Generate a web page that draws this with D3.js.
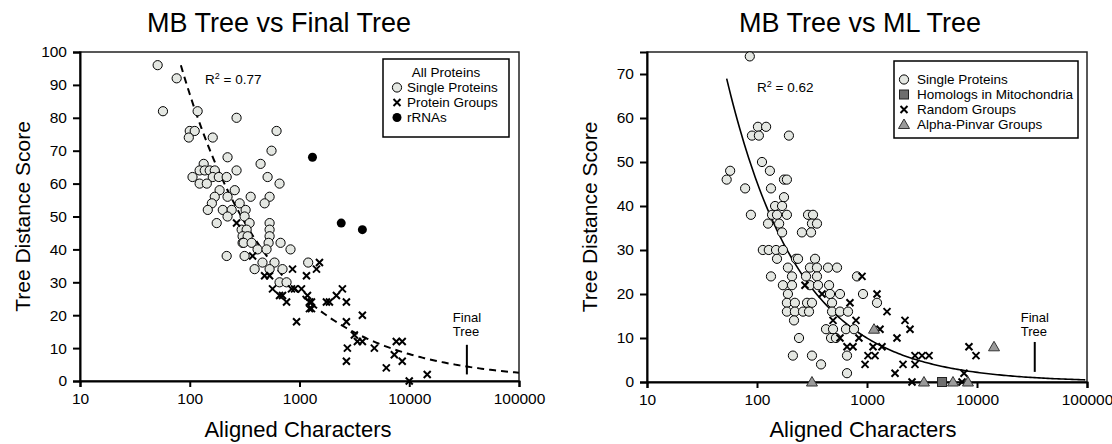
<!DOCTYPE html>
<html lang="en">
  <head>
    <title>MB Tree distance</title>
    <script src="https://d3js.org/d3.v7.min.js"></script>
    <style>
      body { margin: 0; background: white; }
      text { font-family: "Liberation Sans", Arial, sans-serif; fill: black; }
      .frame { fill: none; stroke: #222; stroke-width: 1.5; }
      .axis path, .axis line { stroke: black; stroke-width: 2; }
      .axis text { font-size: 15.5px; }
      .circ { fill: #e4e7e2; stroke: black; stroke-width: 1; }
      .cross { stroke: black; stroke-width: 2; fill: none; }
    </style>
  </head>
  <body>
    <div id="chart"></div>
    <script>
      // x ticks (shared) and y ticks
      let xTicks = [10, 100, 1000, 10000, 100000];
      let leftYTicks = [0, 10, 20, 30, 40, 50, 60, 70, 80, 90, 100];
      let rightYTicks = [0, 10, 20, 30, 40, 50, 60, 70];

      // left panel: MB Tree vs Final Tree  [aligned chars, distance]
      let leftSingle = [
        [51,96],[57,82],[76,92],[118,82],[267,80],[100,76],[111,76],[98,74],[162,74],[618,76],
        [556,70],[221,68],[442,66],[134,66],[123,64],[137,64],[152,64],[169,64],[267,64],
        [106,62],[162,62],[184,62],[217,62],[512,62],[123,60],[143,60],[658,60],[187,58],[257,58],
        [359,56],[534,56],[169,56],[481,54],[159,54],[221,56],[285,54],[146,52],[200,52],[241,52],
        [323,52],[221,50],[316,50],[176,48],[351,48],[534,48],[297,46],[330,46],[534,46],
        [303,44],[337,44],[534,44],[303,42],[310,42],[366,42],[523,42],[672,42],[415,40],[501,40],
        [828,40],[217,38],[316,38],[460,36],[592,36],[1200,36],[390,34],[534,34],[700,34],
        [658,30],[762,30]
      ];
      let leftGroups = [
        [267,48],[374,38],[864,34],[1520,36],[1428,34],[1158,32],[481,32],[534,32],
        [568,28],[658,26],[700,26],[845,28],[901,28],[1042,28],[1182,26],[762,24],[2170,26],
        [2460,28],[1233,24],[1285,24],[1233,22],[1285,22],[1760,24],[1873,24],[2675,24],
        [940,18],[2675,18],[3740,20],[3162,14],[3370,12],[3740,12],[2730,10],[2675,6],
        [4810,10],[7620,12],[8630,12],[7310,8],[8630,6],[6180,4],[10000,0],[14580,2]
      ];
      let leftRRNA = [[1313,68],[2400,48],[3740,46]];
      let leftFit = { a: 930, b: -0.514, from: 83, r2: "0.77" };

      // right panel: MB Tree vs ML Tree
      let rightSingle = [
        [86,74],[102,58],[121,58],[90,56],[104,56],[195,56],[111,50],[131,48],[57,48],[53,46],
        [176,46],[187,46],[78,44],[134,44],[176,42],[146,40],[169,40],[88,38],[137,38],[152,38],
        [187,38],[291,38],[323,38],[126,36],[159,36],[316,36],[351,36],[169,34],[256,34],[310,34],
        [113,30],[128,30],[149,30],[172,30],[152,28],[226,28],[236,28],[337,28],[191,26],[303,26],
        [351,26],[442,26],[534,26],[134,24],[208,24],[279,24],[351,24],[811,24],[172,22],[208,22],
        [303,22],[359,22],[452,22],[191,20],[461,20],[568,20],[920,20],[187,18],[221,18],[285,18],
        [316,18],[481,18],[1233,18],[187,16],[221,16],[262,16],[297,16],[481,16],[568,16],[672,16],
        [217,14],[424,12],[491,12],[644,12],[762,12],[241,10],[471,10],[522,10],[212,6],[316,6],
        [658,6],[382,4],[658,2]
      ];
      let rightMito = [[4810,0]];
      let rightRandom = [
        [273,22],[390,20],[491,14],[568,10],[901,24],[1233,20],[700,18],[1520,16],[2215,14],
        [2460,12],[1313,12],[845,10],[1873,10],[658,8],[746,8],[1135,8],[1368,8],[1021,6],
        [1183,6],[960,4],[2125,4],[1798,2],[794,14],[2730,6],[3162,6],[3664,6],[2730,4],
        [7620,2],[8450,8],[9790,6],[2566,0],[7310,0]
      ];
      let rightAlpha = [[316,0],[1158,12],[14280,8],[3296,0],[6050,0],[8280,0]];
      let rightFit = { a: 940, b: -0.658, from: 53, r2: "0.62" };

      let finalTreeX = 33500;

      let width = 1112, height = 444;
      let svg = d3.select("#chart").append("svg")
        .attr("width", width).attr("height", height);

      function marker(g, type, x, y) {
        if (type === "circle") {
          g.append("circle").attr("class", "circ").attr("cx", x).attr("cy", y).attr("r", 4.6);
        } else if (type === "dot") {
          g.append("circle").attr("cx", x).attr("cy", y).attr("r", 4.5).attr("fill", "black");
        } else if (type === "cross") {
          let s = 3.5;
          g.append("path").attr("class", "cross")
            .attr("d", `M${x - s},${y - s}L${x + s},${y + s}M${x - s},${y + s}L${x + s},${y - s}`);
        } else if (type === "tri") {
          g.append("path").attr("d", `M${x},${y - 5.5}L${x + 5.5},${y + 4}L${x - 5.5},${y + 4}Z`)
            .attr("fill", "#9a9a9a").attr("stroke", "#333").attr("stroke-width", 1);
        } else if (type === "square") {
          g.append("rect").attr("x", x - 4.5).attr("y", y - 4.5).attr("width", 9).attr("height", 9)
            .attr("fill", "#6e6e6e").attr("stroke", "#222").attr("stroke-width", 1);
        }
      }

      function panel(opt) {
        let x = d3.scaleLog().domain([10, 100000]).range([opt.x0, opt.x1]);
        let y = d3.scaleLinear().domain([0, opt.ymax]).range([opt.y1, 52]);
        let g = svg.append("g");

        // title
        g.append("text").attr("x", opt.titleX).attr("y", 32)
          .attr("text-anchor", "middle").style("font-size", "27px").text(opt.title);

        // frame
        g.append("rect").attr("class", "frame")
          .attr("x", opt.x0).attr("y", 52).attr("width", opt.x1 - opt.x0).attr("height", opt.y1 - 52);

        // axes
        g.append("g").attr("class", "axis").attr("transform", `translate(0,${opt.y1})`)
          .call(d3.axisBottom(x).tickValues(xTicks).tickFormat(d3.format("d")).tickSizeOuter(0).tickSize(6).tickPadding(6));
        g.append("g").attr("class", "axis").attr("transform", `translate(${opt.x0},0)`)
          .call(d3.axisLeft(y).tickValues(opt.yTicks).tickSizeOuter(0).tickSize(7).tickPadding(6));

        g.append("text").attr("x", opt.labelX).attr("y", 437)
          .attr("text-anchor", "middle").style("font-size", "22px").text("Aligned Characters");
        g.append("text").attr("transform", `translate(${opt.x0 - 50},${(52 + opt.y1) / 2}) rotate(-90)`)
          .attr("text-anchor", "middle").style("font-size", "21px").text("Tree Distance Score");

        // fitted curve
        let xs = d3.range(Math.log10(opt.fit.from), 5.0001, 0.02).map(l => Math.pow(10, l));
        let line = d3.line().x(d => x(d)).y(d => y(opt.fit.a * Math.pow(d, opt.fit.b)));
        g.append("path").datum(xs).attr("d", line).attr("fill", "none").attr("stroke", "black")
          .attr("stroke-width", opt.dashed ? 2 : 1.6)
          .attr("stroke-dasharray", opt.dashed ? "7,5" : null);

        let pts = g.append("g");
        opt.series.forEach(s => s.data.forEach(d => marker(pts, s.type, x(d[0]), y(d[1]))));

        // R2 label
        let r = g.append("text").attr("x", opt.r2x).attr("y", opt.r2y).style("font-size", "13.5px");
        r.append("tspan").text("R");
        r.append("tspan").attr("dy", -5).style("font-size", "9px").text("2");
        r.append("tspan").attr("dy", 5).text(" = " + opt.fit.r2);

        // final tree marker
        g.append("line").attr("x1", x(finalTreeX)).attr("x2", x(finalTreeX))
          .attr("y1", y(opt.ftTop)).attr("y2", y(opt.ftBottom)).attr("stroke", "black").attr("stroke-width", 2);
        g.append("text").attr("x", x(finalTreeX) - 14).attr("y", 322).style("font-size", "13px").text("Final");
        g.append("text").attr("x", x(finalTreeX) - 14).attr("y", 336).style("font-size", "13px").text("Tree");

        // legend
        let L = opt.legend;
        let lg = g.append("g");
        lg.append("rect").attr("x", L.x).attr("y", L.y).attr("width", L.w).attr("height", L.h)
          .attr("fill", "white").attr("stroke", "black").attr("stroke-width", 1.5);
        L.items.forEach((it, i) => {
          let cy = L.y + L.top + i * 15;
          if (it.type) marker(lg, it.type, L.x + L.sx, cy - 4.5);
          lg.append("text").attr("x", it.type ? L.x + L.tx : L.x + L.w / 2)
            .attr("text-anchor", it.type ? "start" : "middle")
            .attr("y", cy).style("font-size", "13.5px").text(it.label);
        });
      }

      panel({
        title: "MB Tree vs Final Tree", titleX: 279, labelX: 298,
        x0: 80, x1: 519, y1: 381, ymax: 100, yTicks: leftYTicks,
        fit: leftFit, dashed: true, r2x: 205, r2y: 84, ftTop: 11, ftBottom: 2,
        series: [
          { type: "circle", data: leftSingle },
          { type: "cross", data: leftGroups },
          { type: "dot", data: leftRRNA }
        ],
        legend: { x: 383, y: 59, w: 126, h: 78, top: 18, sx: 14, tx: 24,
          items: [{ label: "All Proteins" }, { type: "circle", label: "Single Proteins" },
                  { type: "cross", label: "Protein Groups" }, { type: "dot", label: "rRNAs" }] }
      });

      panel({
        title: "MB Tree vs ML Tree", titleX: 860, labelX: 863,
        x0: 647, x1: 1087, y1: 382, ymax: 75, yTicks: rightYTicks,
        fit: rightFit, dashed: false, r2x: 757, r2y: 92, ftTop: 9.1, ftBottom: 2.3,
        series: [
          { type: "circle", data: rightSingle },
          { type: "square", data: rightMito },
          { type: "cross", data: rightRandom },
          { type: "tri", data: rightAlpha }
        ],
        legend: { x: 894, y: 61, w: 184, h: 77, top: 23, sx: 10, tx: 23,
          items: [{ type: "circle", label: "Single Proteins" }, { type: "square", label: "Homologs in Mitochondria" },
                  { type: "cross", label: "Random Groups" }, { type: "tri", label: "Alpha-Pinvar Groups" }] }
      });
    </script>
  </body>
</html>
